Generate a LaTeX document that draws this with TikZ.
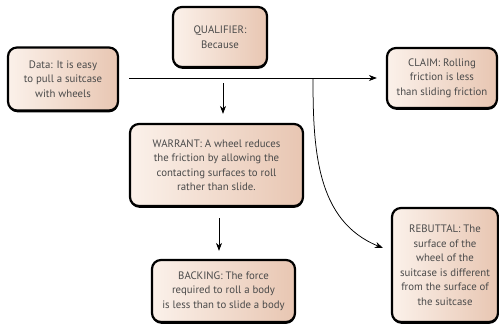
\documentclass[tikz,border=0pt]{standalone}
\usepackage{fontspec}
\setmainfont{PT Sans}
\usetikzlibrary{arrows.meta, shadows}
\definecolor{tmlight}{HTML}{FBF1EA}
\definecolor{tmdark}{HTML}{E8C6B2}
\definecolor{tmtext}{HTML}{4A4A4A}

\begin{document}
\begin{tikzpicture}[x=1pt, y=-1pt,
    tmbox/.style={draw=black, line width=2.2pt, rounded corners=9pt,
      left color=tmlight, right color=tmdark, text=tmtext, align=center,
      font=\fontsize{10.8}{14.5}\selectfont, inner sep=2pt,
      drop shadow={shadow xshift=0.3pt, shadow yshift=-1.8pt, fill=black, opacity=1}},
    tmarrow/.style={-{Stealth[length=8pt, width=6pt, inset=2.5pt]}, line width=0.75pt}]
  \useasboundingbox (0,0) rectangle (499,324);

  % the boxes
  \node[tmbox, minimum width=110pt, minimum height=63pt] (data) at (63,79)
    {Data: It is easy\\to pull a suitcase\\with wheels};
  \node[tmbox, minimum width=94pt, minimum height=60pt] (qualifier) at (220,37)
    {QUALIFIER:\\Because};
  \node[tmbox, minimum width=110pt, minimum height=60pt] (claim) at (442,78)
    {CLAIM: Rolling\\friction is less\\than sliding friction};
  \node[tmbox, minimum width=173pt, minimum height=82pt] (warrant) at (216.5,165)
    {WARRANT: A wheel reduces\\the friction by allowing the\\contacting surfaces to roll\\rather than slide.};
  \node[tmbox, minimum width=143pt, minimum height=62pt] (backing) at (223.5,291)
    {BACKING: The force\\required to roll a body\\is less than to slide a body};
  \node[tmbox, minimum width=106pt, minimum height=114pt] (rebuttal) at (445,265)
    {REBUTTAL: The\\surface of the\\wheel of the\\suitcase is different\\from the surface of\\the suitcase};

  % points on the main line
  \coordinate (split) at (223,78);
  \coordinate (fork) at (313,78);
  \coordinate (rebin) at (383,248);

  % connectors
  \draw[tmarrow, shorten <=10pt, shorten >=9pt] (data.east |- split) -- (claim.west |- split);
  \draw[tmarrow, shorten <=5pt, shorten >=9pt] (split) -- (split |- warrant.north);
  \draw[tmarrow, shorten <=11pt, shorten >=8pt] (warrant.south -| split) ++(-4,0) coordinate (wb)
    (wb) -- (wb |- backing.north);
  \draw[tmarrow] (fork) to[out=-90, in=158] (rebin);
\end{tikzpicture}
\end{document}
